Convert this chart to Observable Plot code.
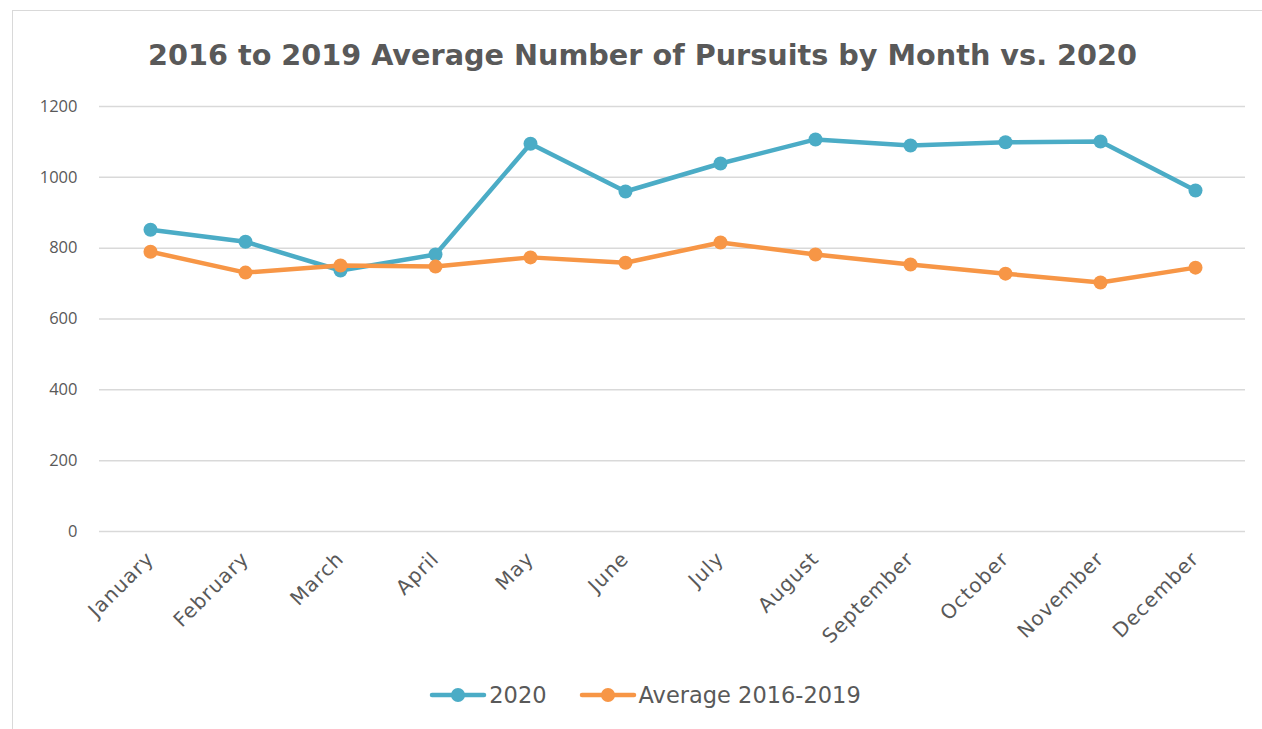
<!DOCTYPE html>
<html>
<head>
<meta charset="utf-8">
<script src="https://cdn.jsdelivr.net/npm/d3@7"></script>
<script src="https://cdn.jsdelivr.net/npm/@observablehq/plot@0.6"></script>
<style>
  html, body { margin: 0; padding: 0; background: #fff; width: 1262px; height: 729px; overflow: hidden; }
  body { position: relative; font-family: "DejaVu Sans", sans-serif; color: #595959; }
  #frame { position: absolute; left: 12px; top: 10px; width: 1262px; height: 740px; border: 1.5px solid #d9d9d9; box-sizing: border-box; }
  #title { position: absolute; left: 23px; top: 38px; width: 1239px; text-align: center; font-weight: bold; font-size: 28.7px; color: #595959; }
  #chart { position: absolute; left: 0; top: 80px; }
  #legend { position: absolute; left: 28px; top: 682px; width: 1234px; display: flex; justify-content: center; align-items: center; font-size: 22.5px; color: #595959; }
  .item { display: flex; align-items: center; margin: 0 16px; }
  .item svg { margin-right: 2px; }
  #chart svg g[aria-label="y-axis tick label"] text { font-family: "Open Sans", sans-serif; font-size: 16.5px; }
  #chart svg g[aria-label="x-axis tick label"] text { letter-spacing: 1px; }
</style>
</head>
<body>
<div id="frame"></div>
<div id="title">2016 to 2019 Average Number of Pursuits by Month vs. 2020</div>
<div id="chart"></div>
<div id="legend"></div>
<script>
const months = ["January","February","March","April","May","June","July","August","September","October","November","December"];
const values2020 = [852, 818, 737, 782, 1095, 960, 1039, 1107, 1090, 1099, 1101, 963];
const valuesAvg = [790, 731, 751, 748, 774, 759, 816, 782, 754, 728, 703, 745];
const seriesNames = ["2020", "Average 2016-2019"];
const seriesColors = ["#4BACC6", "#F79646"];
const yTicks = [0, 200, 400, 600, 800, 1000, 1200];

const data = [];
months.forEach((m, i) => {
  data.push({month: m, value: values2020[i], series: seriesNames[0]});
});
months.forEach((m, i) => {
  data.push({month: m, value: valuesAvg[i], series: seriesNames[1]});
});

const plot = Plot.plot({
  width: 1262,
  height: 594,
  marginLeft: 99,
  marginRight: 17,
  marginTop: 26,
  marginBottom: 143,
  style: { fontFamily: "DejaVu Sans, sans-serif", fontSize: "20px", color: "#595959", background: "transparent" },
  x: { type: "point", domain: months, padding: 0.5, label: null, tickSize: 0, tickPadding: 24, tickRotate: -45 },
  y: { domain: [0, 1200], ticks: yTicks, tickFormat: d => String(d), label: null, tickSize: 0, tickPadding: 22 },
  color: { domain: seriesNames, range: seriesColors },
  marks: [
    Plot.gridY(yTicks, { stroke: "#d9d9d9", strokeOpacity: 1, strokeWidth: 1.5 }),
    Plot.line(data, { x: "month", y: "value", z: "series", stroke: "series", strokeWidth: 4.5, curve: "linear" }),
    Plot.dot(data, { x: "month", y: "value", fill: "series", r: 7 })
  ]
});
document.getElementById("chart").appendChild(plot);

const legend = document.getElementById("legend");
seriesNames.forEach((name, i) => {
  const item = document.createElement("div");
  item.className = "item";
  item.innerHTML = `<svg width="58" height="16"><line x1="3" y1="8" x2="55" y2="8" stroke="${seriesColors[i]}" stroke-width="4.5" stroke-linecap="round"/><circle cx="29" cy="8" r="7" fill="${seriesColors[i]}"/></svg><span>${name}</span>`;
  legend.appendChild(item);
});
</script>
</body>
</html>
